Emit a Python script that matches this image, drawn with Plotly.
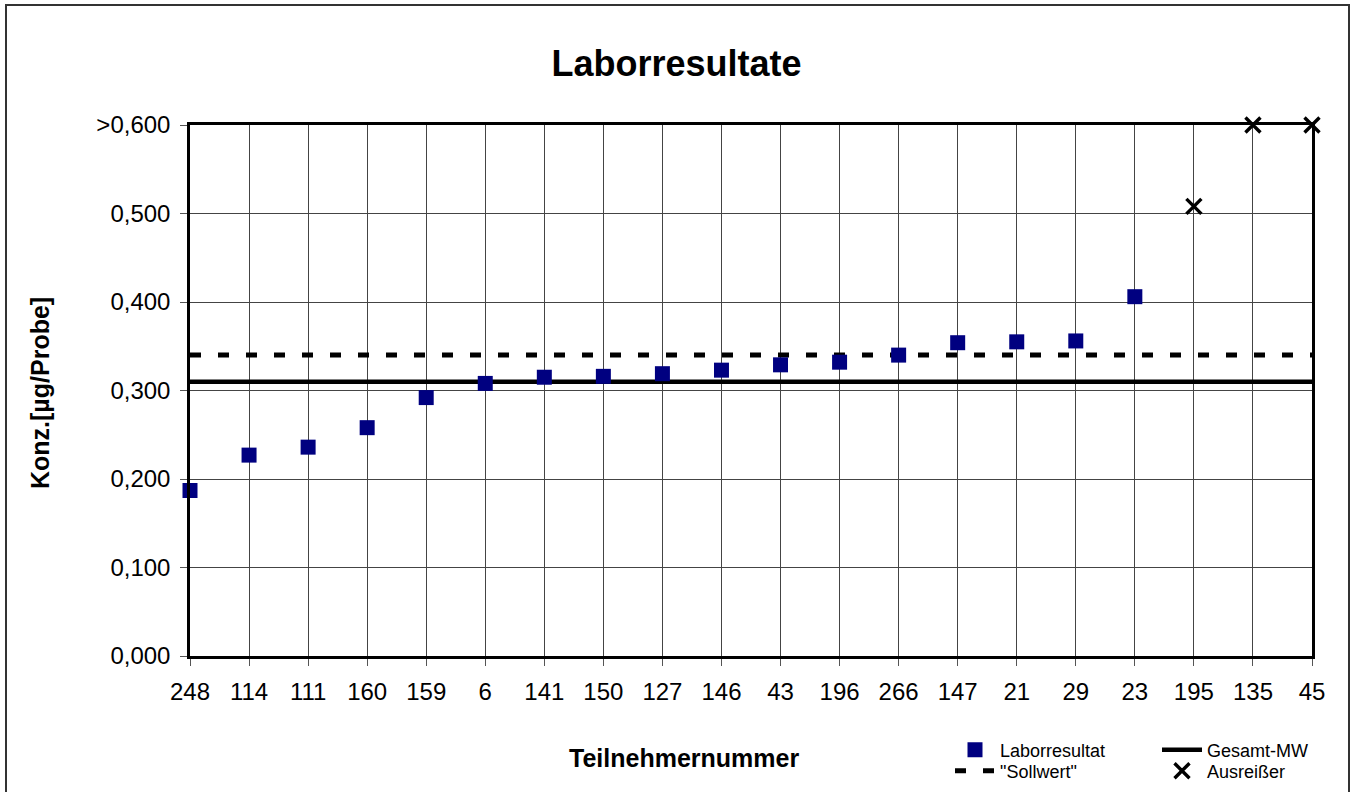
import plotly.graph_objects as go

# ---- data ----
participants = ["248", "114", "111", "160", "159", "6", "141", "150", "127", "146",
                "43", "196", "266", "147", "21", "29", "23", "195", "135", "45"]
lab_participants = participants[:17]
lab_values = [0.187, 0.227, 0.236, 0.258, 0.292, 0.308, 0.315, 0.316, 0.319, 0.323,
              0.329, 0.332, 0.340, 0.354, 0.355, 0.356, 0.406]
outlier_participants = ["195", "135", "45"]
outlier_values = [0.508, 0.600, 0.600]
gesamt_mw = 0.310
sollwert = 0.340
y_tickvals = [0.0, 0.1, 0.2, 0.3, 0.4, 0.5, 0.6]
y_ticktext = ["0,000", "0,100", "0,200", "0,300", "0,400", "0,500", ">0,600"]

FONT = "Liberation Sans, Arial, sans-serif"

fig = go.Figure()

# reference lines (drawn first so markers sit on top)
fig.add_trace(go.Scatter(
    x=[participants[0], participants[-1]], y=[gesamt_mw, gesamt_mw],
    mode="lines", name="Gesamt-MW", legend="legend", legendrank=2,
    line=dict(color="black", width=4.5), cliponaxis=False,
))
fig.add_trace(go.Scatter(
    x=[participants[0], participants[-1]], y=[sollwert, sollwert],
    mode="lines", name="\"Sollwert\"", legend="legend2", legendrank=1,
    line=dict(color="black", width=5, dash="11px,17px"), cliponaxis=False,
))
fig.add_trace(go.Scatter(
    x=lab_participants, y=lab_values, mode="markers", name="Laborresultat",
    legend="legend", legendrank=1,
    marker=dict(symbol="square", size=15, color="#000080", line=dict(width=0)),
    cliponaxis=False,
))
fig.add_trace(go.Scatter(
    x=outlier_participants, y=outlier_values, mode="markers", name="Ausreißer",
    legend="legend2", legendrank=2,
    marker=dict(symbol="x-thin", size=15, color="black",
                line=dict(width=3.4, color="black")),
    cliponaxis=False,
))

L, R, T, B = 190, 1312, 125, 656
W, H = 1353, 792
pw, ph = R - L, B - T

def px(x):
    return (x - L) / pw

def py(y):
    return (B - y) / ph

legend_common = dict(orientation="h", xanchor="left", yanchor="middle",
                     font=dict(size=18, family=FONT), entrywidth=152,
                     entrywidthmode="pixels", bgcolor="rgba(0,0,0,0)",
                     itemwidth=40, traceorder="normal")

fig.update_layout(
    width=W, height=H,
    margin=dict(l=L, r=W - R, t=T, b=H - B, pad=0, autoexpand=False),
    paper_bgcolor="white", plot_bgcolor="white",
    font=dict(family=FONT, color="black", size=24),
    title=dict(text="<b>Laborresultate</b>", x=0.5, xref="container",
               y=1 - 63 / H, yref="container", xanchor="center", yanchor="middle",
               font=dict(size=36, family=FONT, color="black")),
    showlegend=True,
    legend=dict(x=px(950), y=py(750), **legend_common),
    legend2=dict(x=px(950), y=py(771), **legend_common),
    xaxis=dict(type="category", categoryorder="array", categoryarray=participants,
               range=[0, len(participants) - 1], showgrid=True, gridcolor="#444",
               gridwidth=1, showline=True, linecolor="black", linewidth=2.5,
               mirror=True, ticks="outside", ticklen=7, tickcolor="#555",
               ticklabelstandoff=5,
               tickfont=dict(size=24, family=FONT), zeroline=False),
    yaxis=dict(range=[0, 0.6], tickvals=y_tickvals, ticktext=y_ticktext,
               showgrid=True, gridcolor="#444", gridwidth=1, showline=True,
               linecolor="black", linewidth=2.5, mirror=True, ticks="outside",
               ticklen=7, tickcolor="#555", ticklabelstandoff=5,
               tickfont=dict(size=24, family=FONT), zeroline=False),
    annotations=[
        dict(text="<b>Teilnehmernummer</b>", xref="paper", yref="paper",
             x=px(684), y=py(758), xanchor="center", yanchor="middle",
             showarrow=False, font=dict(size=25, family=FONT)),
        dict(text="<b>Konz.[µg/Probe]</b>", xref="paper", yref="paper",
             x=px(40), y=py(393), xanchor="center", yanchor="middle",
             textangle=-90, showarrow=False, font=dict(size=25, family=FONT)),
    ],
    shapes=[
        dict(type="rect", xref="paper", yref="paper",
             x0=px(6), x1=px(1349), y0=py(820), y1=py(5),
             line=dict(color="#333", width=2), fillcolor="rgba(0,0,0,0)",
             layer="below"),
    ],
)

fig.write_html(
    "out.html",
    config={"displayModeBar": False, "displaylogo": False},
    post_script="document.body.style.margin='0';document.body.style.overflow='hidden';",
)
